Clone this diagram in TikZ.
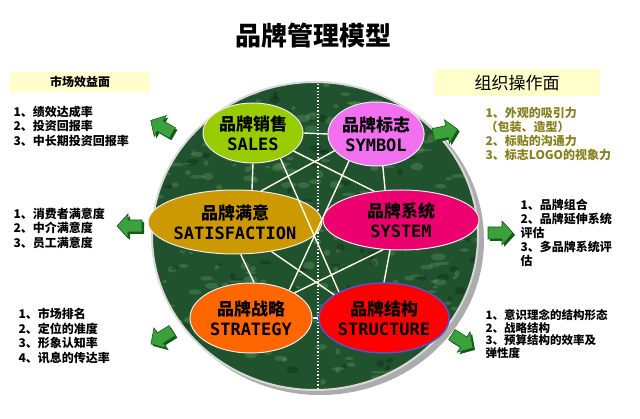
\documentclass[tikz,border=0pt]{standalone}
\usepackage{fontspec}
\setmainfont{Noto Sans CJK SC}
\newfontfamily\latn{DejaVu Sans Mono}
\usetikzlibrary{shapes.geometric}
\definecolor{salesc}{RGB}{153,204,0}
\definecolor{symbolc}{RGB}{240,112,240}
\definecolor{satisc}{RGB}{204,153,0}
\definecolor{systemc}{RGB}{236,0,112}
\definecolor{strategyc}{RGB}{255,102,0}
\definecolor{structurec}{RGB}{255,0,0}
\definecolor{marble}{RGB}{32,82,46}
\definecolor{marblelight}{RGB}{110,165,115}
\definecolor{arrowgreen}{RGB}{60,160,60}
\definecolor{arrowdark}{RGB}{20,90,25}
\definecolor{paleyellow}{RGB}{255,255,204}
\definecolor{olive}{RGB}{135,128,30}

\begin{document}
\begin{tikzpicture}[x=1pt,y=-1pt,
	brand/.style={ellipse, draw=white!85!gray, line width=1pt, align=center, inner sep=0pt,
		font=\bfseries\fontsize{17}{20}\selectfont},
	link/.style={white!90!yellow, line width=1.4pt},
	flow/.style={fill=arrowgreen, draw=arrowdark, line width=.6pt},
	item/.style={align=left, anchor=west, font=\bfseries\fontsize{12}{14.5}\selectfont},
	head/.style={fill=paleyellow, inner sep=0pt}]
	\useasboundingbox (0,0) rectangle (640,419);
	
	\node[font=\bfseries\fontsize{26}{26}\selectfont] (title) at (313,36) {品牌管理模型};
	\node[head, minimum width=140pt, minimum height=20pt, font=\bfseries\fontsize{12}{12}\selectfont] (market) at (80,82) {市场效益面};
	\node[head, minimum width=165pt, minimum height=27pt, font=\fontsize{17}{17}\selectfont] (organ) at (517,83) {组织操作面};
	
	\fill[gray!65] (320,240) ellipse (164 and 155);
	\begin{scope}
		\clip (315,236) ellipse (163 and 154);
		\fill[marble] (150,80) rectangle (480,392);
		\pgfmathsetseed{11}
		\foreach \i in {1,...,320}
			\fill[marblelight, opacity=.3] ({150+330*rnd},{80+312*rnd}) ellipse ({2+6*rnd} and {1+3*rnd});
		\foreach \i in {1,...,120}
			\fill[black, opacity=.2] ({150+330*rnd},{80+312*rnd}) ellipse ({2+5*rnd} and {1+3*rnd});
	\end{scope}
	\draw[gray!30, line width=2pt] (315,236) ellipse (163 and 154);
	\draw[white, line width=1.3pt, dash pattern=on 1.3pt off 2pt] (318,84) -- (318,388);
	
	\node[brand, fill=salesc, minimum width=100pt, minimum height=60pt] (sales) at (253,133) {品牌销售\\{\latn SALES}};
	\node[brand, fill=symbolc, minimum width=96pt, minimum height=64pt] (symbol) at (376,134) {品牌标志\\{\latn SYMBOL}};
	\node[brand, fill=satisc, minimum width=164pt, minimum height=64pt] (satis) at (235,222) {品牌满意\\{\latn SATISFACTION}};
	\node[brand, fill=systemc, minimum width=156pt, minimum height=60pt] (system) at (401,220) {品牌系统\\{\latn SYSTEM}};
	\node[brand, fill=strategyc, minimum width=122pt, minimum height=70pt] (strategy) at (251,318) {品牌战略\\{\latn STRATEGY}};
	\node[brand, fill=structurec, draw={rgb,255:red,90;green,80;blue,200}, line width=1.5pt, minimum width=122pt, minimum height=70pt] (structure) at (384,318) {品牌结构\\{\latn STRUCTURE}};
	
	\foreach \a/\b in {sales.0/symbol.180, sales.-90/satis.62, symbol.-78/system.118,
		satis.-80/strategy.85, system.-110/structure.90, strategy.0/structure.180,
		sales.-43/structure.150, symbol.-135/strategy.36, sales.-24/system.133,
		symbol.-158/satis.50, satis.-39/structure.155, system.-121/strategy.30}
		\draw[link] (\a) -- (\b);
	
	\foreach \x/\y/\ang in {162/127/150, 445/132/12, 130/226/180, 500/233/0, 162/337/212, 462/341/-32}
	{
		\fill[arrowdark, shift={(\x+2,\y+2)}, rotate=\ang] (-12,-6) -- (2,-6) -- (2,-12) -- (13,0) -- (2,12) -- (2,6) -- (-12,6) -- cycle;
		\draw[flow, shift={(\x,\y)}, rotate=\ang] (-12,-6) -- (2,-6) -- (2,-12) -- (13,0) -- (2,12) -- (2,6) -- (-12,6) -- cycle;
	};
	
	\node[item] (salesitems) at (10,126) {1、绩效达成率\\2、投资回报率\\3、中长期投资回报率};
	\node[item] (satisitems) at (10,228) {1、消费者满意度\\2、中介满意度\\3、员工满意度};
	\node[item] (strategyitems) at (15,336) {1、市场排名\\2、定位的准度\\3、形象认知率\\4、讯息的传达率};
	\node[item, text=olive, font=\bfseries\fontsize{12}{14}\selectfont] (symbolitems) at (482,134) {1、外观的吸引力\\（包装、造型）\\2、标贴的沟通力\\3、标志LOGO的视象力};
	\node[item, font=\bfseries\fontsize{12}{14}\selectfont] (systemitems) at (517,233) {1、品牌组合\\2、品牌延伸系统\\评估\\3、多品牌系统评\\估};
	\node[item, font=\bfseries\fontsize{11.5}{12.5}\selectfont] (structureitems) at (482,334) {1、意识理念的结构形态\\2、战略结构\\3、预算结构的效率及\\弹性度};
\end{tikzpicture}
\end{document}
